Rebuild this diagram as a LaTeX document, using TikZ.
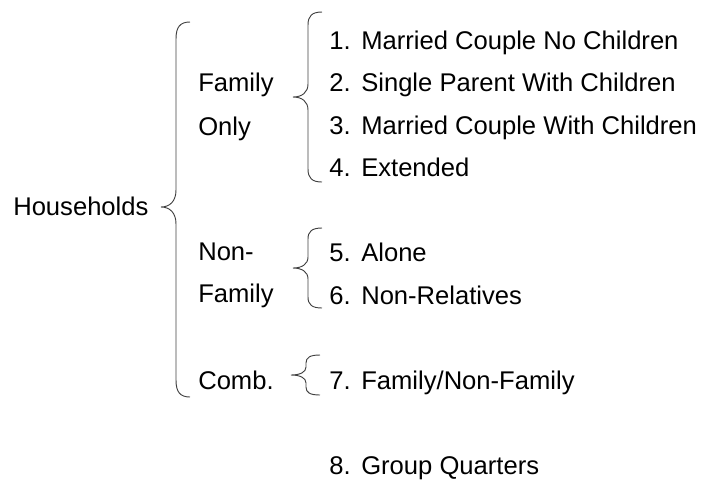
\documentclass[tikz,border=0pt]{standalone}
\usepackage{fontspec}
\setmainfont{Liberation Sans}
\newcommand{\hhitem}[2]{\makebox[24pt][l]{#1}#2}
% curly brace opening to the right: x of ends, top y, tip y, bottom y, curl
\newcommand{\hhbrace}[5]{%
  \draw[brc] (#1,#2)
    .. controls ({#1-10},#2) and ({#1-14},{#2+0.3*#5}) .. ({#1-14},{#2+#5})
    -- ({#1-14},{#3-#5})
    .. controls ({#1-14},{#3-0.35*#5}) and ({#1-20},#3) .. ({#1-29},#3)
    .. controls ({#1-20},#3) and ({#1-14},{#3+0.35*#5}) .. ({#1-14},{#3+#5})
    -- ({#1-14},{#4-#5})
    .. controls ({#1-14},{#4-0.3*#5}) and ({#1-10},#4) .. (#1,#4);}
\tikzset{
  lbl/.style={anchor=base west, inner sep=0pt, font=\fontsize{19.2}{23}\selectfont},
  brc/.style={draw=black!75, line width=0.7pt},
}
\begin{document}
\begin{tikzpicture}[x=0.75pt, y=-0.75pt]
  \useasboundingbox (0,0) rectangle (703,480);

  \node[lbl] (hh) at (13,215) {Households};

  \node[lbl] (fam1) at (198,91) {Family};
  \node[lbl] (fam2) at (198,135) {Only};
  \node[lbl] (non1) at (198,260) {Non-};
  \node[lbl] (non2) at (198,302) {Family};
  \node[lbl] (comb) at (198,389) {Comb.};

  \node[lbl] (i1) at (329,49) {\hhitem{1.}{Married Couple No Children}};
  \node[lbl] (i2) at (329,91) {\hhitem{2.}{Single Parent With Children}};
  \node[lbl] (i3) at (329,134) {\hhitem{3.}{Married Couple With Children}};
  \node[lbl] (i4) at (329,176) {\hhitem{4.}{Extended}};
  \node[lbl] (i5) at (329,261) {\hhitem{5.}{Alone}};
  \node[lbl] (i6) at (329,304) {\hhitem{6.}{Non-Relatives}};
  \node[lbl] (i7) at (329,389) {\hhitem{7.}{Family/Non-Family}};
  \node[lbl] (i8) at (329,474) {\hhitem{8.}{Group Quarters}};

  % braces
  \hhbrace{190}{22}{207}{397}{17}
  \hhbrace{322}{12}{97}{182}{13}
  \hhbrace{322}{228}{268}{308}{11}
  \hhbrace{320}{355}{375}{395}{8}
\end{tikzpicture}
\end{document}
